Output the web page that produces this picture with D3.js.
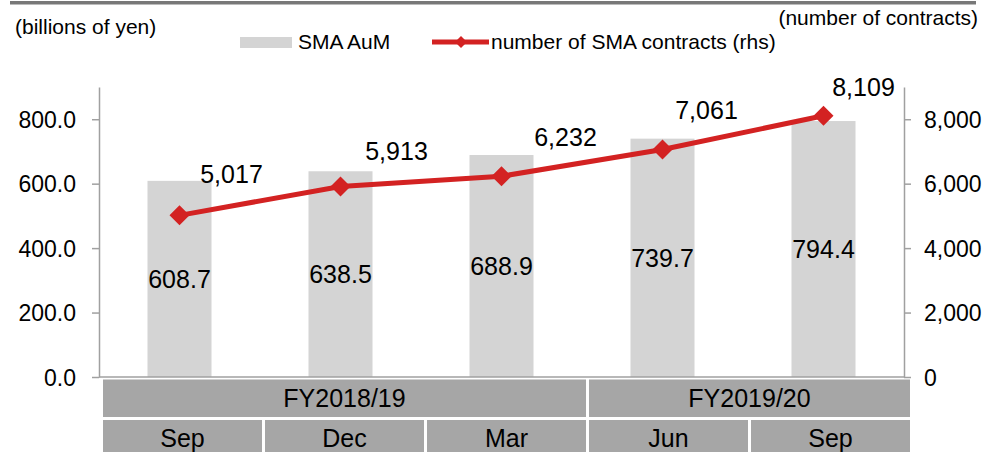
<!DOCTYPE html>
<html>
<head>
<meta charset="utf-8">
<script src="https://cdn.jsdelivr.net/npm/d3@7"></script>
<style>
  body { margin: 0; background: #fff; }
  text { font-family: "Liberation Sans", Arial, sans-serif; fill: #000; }
</style>
</head>
<body>
<div id="chart"></div>
<script>
// data
const months = ["Sep", "Dec", "Mar", "Jun", "Sep"]
const fiscalYears = ["FY2018/19", "FY2019/20"]
const fySpan = [3, 2]
const aum = [608.7, 638.5, 688.9, 739.7, 794.4]
const contracts = [5017, 5913, 6232, 7061, 8109]
const leftTicks = [0, 200, 400, 600, 800]
const rightTicks = [0, 2000, 4000, 6000, 8000]

// hand placed label nudges (dx, dy from the marker)
const labelNudge = [[52, -32], [56, -26], [64, -30], [44, -30], [40, -20]]

const w = 994
const h = 452
const plotLeft = 99
const plotRight = 904
const plotTop = 87
const plotBottom = 377

const red = "#d32222"
const barGrey = "#d4d4d4"
const axisGrey = "#a0a0a0"
const cellGrey = "#a6a6a6"

const svg = d3.select('#chart').append('svg')
    .attr('width', w)
    .attr('height', h)

const idx = months.map((d, i) => i)

const x = d3.scaleBand()
    .domain(idx)
    .range([plotLeft, plotRight])

const yL = d3.scaleLinear().domain([0, 900]).range([plotBottom, plotTop])
const yR = d3.scaleLinear().domain([0, 9000]).range([plotBottom, plotTop])

// top rule
svg.append('rect')
    .attr('x', 10).attr('y', 1)
    .attr('width', 966).attr('height', 3.5)
    .attr('fill', '#787878')

// bars
const barW = 64
svg.append('g').selectAll('rect')
    .data(aum)
    .enter()
    .append('rect')
    .attr('x', (d, i) => x(i) + x.bandwidth() / 2 - barW / 2)
    .attr('y', d => yL(d))
    .attr('width', barW)
    .attr('height', d => plotBottom - yL(d))
    .attr('fill', barGrey)

// bar labels (middle of bar)
svg.append('g').selectAll('text')
    .data(aum)
    .enter()
    .append('text')
    .attr('x', (d, i) => x(i) + x.bandwidth() / 2)
    .attr('y', d => (yL(d) + plotBottom) / 2 + 9)
    .attr('text-anchor', 'middle')
    .style('font-size', '25px')
    .text(d => d3.format(".1f")(d))

// axes
const styleAxis = g => {
    g.selectAll('path').attr('stroke', axisGrey).attr('stroke-width', 1.5)
    g.selectAll('line').attr('stroke', axisGrey).attr('stroke-width', 1.5)
    g.selectAll('text').style('font-size', '23px').attr('dy', '0.35em')
        .style('font-family', '"Liberation Sans", Arial, sans-serif').attr('fill', '#000')
}

svg.append('g')
    .attr('transform', 'translate(' + plotLeft + ',0)')
    .call(d3.axisLeft(yL).tickValues(leftTicks).tickFormat(d3.format(".1f"))
        .tickSize(7).tickSizeOuter(0).tickPadding(16))
    .call(styleAxis)

svg.append('g')
    .attr('transform', 'translate(' + plotRight + ',0)')
    .call(d3.axisRight(yR).tickValues(rightTicks).tickFormat(d3.format(","))
        .tickSize(7).tickSizeOuter(0).tickPadding(13))
    .call(styleAxis)

svg.append('line')
    .attr('x1', plotLeft).attr('x2', plotRight)
    .attr('y1', plotBottom).attr('y2', plotBottom)
    .attr('stroke', axisGrey).attr('stroke-width', 1.5)

// contracts line
const line = d3.line()
    .x((d, i) => x(i) + x.bandwidth() / 2)
    .y(d => yR(d))

svg.append('path')
    .datum(contracts)
    .attr('d', line)
    .attr('fill', 'none')
    .attr('stroke', red)
    .attr('stroke-width', 5)

const diamond = r => `M0,${-r}L${r},0L0,${r}L${-r},0Z`

svg.append('g').selectAll('path')
    .data(contracts)
    .enter()
    .append('path')
    .attr('d', diamond(10))
    .attr('transform', (d, i) => 'translate(' + (x(i) + x.bandwidth() / 2) + ',' + yR(d) + ')')
    .attr('fill', red)

svg.append('g').selectAll('text')
    .data(contracts)
    .enter()
    .append('text')
    .attr('x', (d, i) => x(i) + x.bandwidth() / 2 + labelNudge[i][0])
    .attr('y', (d, i) => yR(d) + labelNudge[i][1])
    .attr('text-anchor', 'middle')
    .style('font-size', '25px')
    .text(d => d3.format(",")(d))

// axis titles
svg.append('text').attr('x', 15).attr('y', 34)
    .style('font-size', '21px').text('(billions of yen)')
svg.append('text').attr('x', 978).attr('y', 25)
    .attr('text-anchor', 'end')
    .style('font-size', '21px').text('(number of contracts)')

// legend
svg.append('rect')
    .attr('x', 240).attr('y', 37)
    .attr('width', 52).attr('height', 11)
    .attr('fill', barGrey)
svg.append('text').attr('x', 298).attr('y', 49)
    .style('font-size', '21px').text('SMA AuM')
svg.append('line')
    .attr('x1', 432).attr('x2', 489)
    .attr('y1', 42).attr('y2', 42)
    .attr('stroke', red).attr('stroke-width', 5)
svg.append('path')
    .attr('d', diamond(6))
    .attr('transform', 'translate(461,42)')
    .attr('fill', red)
svg.append('text').attr('x', 491).attr('y', 49)
    .style('font-size', '21px').text('number of SMA contracts (rhs)')

// category table under the plot
const tLeft = 103
const tRight = 910
const gap = 3
const tx = d3.scaleBand()
    .domain(idx)
    .range([tLeft, tRight + gap])

const row1 = [379.5, 417]
const row2 = [420, 455]

const table = svg.append('g')

let start = 0
fiscalYears.forEach((fy, k) => {
    const x0 = tx(start)
    const x1 = tx(start + fySpan[k] - 1) + tx.bandwidth() - gap
    table.append('rect')
        .attr('x', x0).attr('y', row1[0])
        .attr('width', x1 - x0).attr('height', row1[1] - row1[0])
        .attr('fill', cellGrey)
    table.append('text')
        .attr('x', (x0 + x1) / 2).attr('y', 406.5)
        .attr('text-anchor', 'middle')
        .style('font-size', '25px')
        .text(fy)
    start += fySpan[k]
})

table.selectAll('.cell')
    .data(months)
    .enter()
    .append('rect')
    .attr('class', 'cell')
    .attr('x', (d, i) => tx(i))
    .attr('y', row2[0])
    .attr('width', tx.bandwidth() - gap)
    .attr('height', row2[1] - row2[0])
    .attr('fill', cellGrey)

table.selectAll('.mlabel')
    .data(months)
    .enter()
    .append('text')
    .attr('class', 'mlabel')
    .attr('x', (d, i) => tx(i) + (tx.bandwidth() - gap) / 2)
    .attr('y', 446.5)
    .attr('text-anchor', 'middle')
    .style('font-size', '25px')
    .text(d => d)
</script>
</body>
</html>
